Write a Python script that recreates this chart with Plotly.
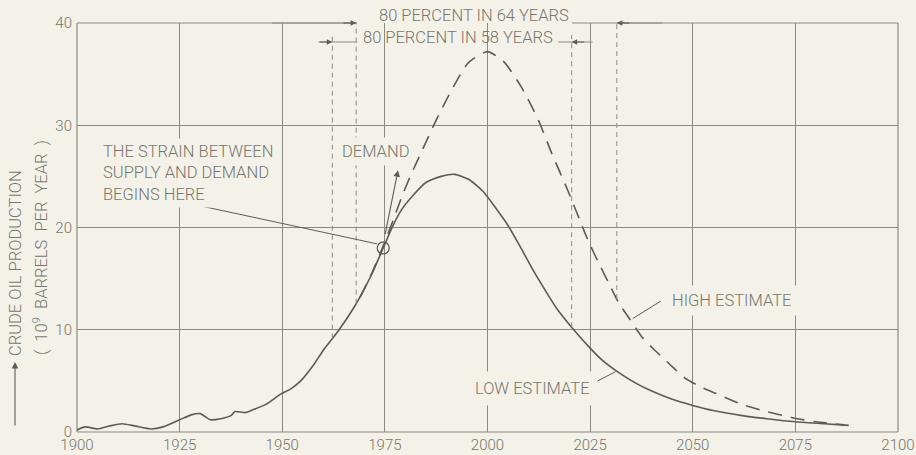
import numpy as np
import plotly.graph_objects as go

# ---------------- data ----------------
low_years = [1900, 1902, 1905, 1908, 1911, 1914, 1918, 1921, 1925, 1928, 1930, 1932.5,
             1935, 1937.5, 1938.5, 1941, 1943, 1946, 1949.6, 1952, 1954.5, 1957.7, 1960,
             1963.5, 1967.5, 1970, 1972, 1974.6, 1977, 1979, 1982, 1985, 1988.7, 1992,
             1995.5, 1999.2, 2002, 2005, 2008, 2011, 2014, 2017, 2021, 2025, 2028, 2032, 2036,
             2040, 2045, 2050, 2055, 2062, 2068, 2075, 2082, 2088]
low_values = [0.2, 0.5, 0.3, 0.6, 0.8, 0.6, 0.3, 0.5, 1.2, 1.7, 1.8, 1.2,
              1.3, 1.6, 2.0, 1.9, 2.2, 2.7, 3.7, 4.2, 5.0, 6.6, 8.0,
              9.8, 12.2, 14.0, 15.6, 18.0, 20.2, 21.7, 23.2, 24.4, 25.0, 25.2,
              24.7, 23.4, 21.9, 20.2, 18.1, 15.9, 13.9, 12.0, 10.0, 8.2, 7.0, 5.8, 4.8,
              4.0, 3.2, 2.6, 2.1, 1.6, 1.3, 1.0, 0.8, 0.65]

high_years = [1969, 1972, 1974.6, 1977, 1979.4, 1981.4, 1983.8, 1987.5, 1991.2, 1995.3,
              2000, 2004, 2008.3, 2012.4, 2015.6, 2019.8, 2023.7, 2025, 2027, 2029.5,
              2032, 2034.4, 2037.6, 2041, 2044.2, 2048, 2052, 2055.5, 2062, 2068,
              2074.3, 2080, 2087]
high_values = [13.2, 15.7, 18.2, 20.7, 23.3, 25.2, 27.3, 30.5, 33.4, 36.1,
               37.2, 36.2, 33.7, 30.5, 27.3, 23.4, 19.5, 18.3, 16.6, 14.6,
               12.6, 11.2, 9.3, 7.9, 6.7, 5.3, 4.4, 3.8, 2.7, 2.0,
               1.4, 1.0, 0.7]

x_ticks = [1900, 1925, 1950, 1975, 2000, 2025, 2050, 2075, 2100]
y_ticks = [0, 10, 20, 30, 40]

span64 = [1968.0, 2031.5]   # high estimate, 80 percent in 64 years
span58 = [1962.2, 2020.5]   # low estimate, 80 percent in 58 years
strain_point = [1974.6, 18.0]
demand_tip = [1978.2, 25.6]

# ---------------- style ----------------
BG = "#f4f2e8"
INK = "#5c5c56"
GRID = "#8a8a83"
TXT = "#76766e"
FONT = "Roboto, Liberation Sans, sans-serif"
FS = 16.5

fig = go.Figure()
fig.add_trace(go.Scatter(x=low_years, y=low_values, mode="lines",
                         line=dict(color=INK, width=1.6, shape="spline", smoothing=0.6),
                         hoverinfo="skip", showlegend=False))
fig.add_trace(go.Scatter(x=high_years, y=high_values, mode="lines",
                         line=dict(color=INK, width=1.6, shape="spline", smoothing=0.6,
                                   dash="14px,9px"),
                         hoverinfo="skip", showlegend=False))

shapes = []
ann = []

def pxx(p):  # pixel x -> paper
    return (p - 77) / 821.0

def pxy(p):  # pixel y -> paper
    return (432 - p) / 409.0

# cream block behind the top dimension text (breaks grid lines)
shapes.append(dict(type="rect", xref="paper", yref="paper", x0=pxx(357), x1=pxx(572),
                   y0=pxy(49), y1=pxy(4), fillcolor=BG, line=dict(width=0), layer="between"))

# frame
lw = dict(color=GRID, width=1.2)
shapes += [
    dict(type="line", xref="paper", yref="paper", x0=0, x1=0, y0=0, y1=1, line=lw, layer="between"),
    dict(type="line", xref="paper", yref="paper", x0=1, x1=1, y0=0, y1=1, line=lw, layer="between"),
    dict(type="line", xref="paper", yref="paper", x0=0, x1=1, y0=0, y1=0, line=lw, layer="between"),
    dict(type="line", xref="paper", yref="paper", x0=0, x1=pxx(357), y0=1, y1=1, line=lw, layer="between"),
    dict(type="line", xref="paper", yref="paper", x0=pxx(572), x1=1, y0=1, y1=1, line=lw, layer="between"),
]

# vertical extension lines (thin dashed) from top to curve
ext = dict(color=GRID, width=1, dash="5px,4px")
def curve_at(yr, xs, ys):
    return float(np.interp(yr, xs, ys))

top58 = pxy(35)
shapes.append(dict(type="line", xref="x", yref="paper", x0=span64[0], x1=span64[0],
                   y0=curve_at(span64[0], low_years, low_values) / 40, y1=1, line=ext))
shapes.append(dict(type="line", xref="x", yref="paper", x0=span64[1], x1=span64[1],
                   y0=curve_at(span64[1], high_years, high_values) / 40, y1=1, line=ext))
shapes.append(dict(type="line", xref="x", yref="paper", x0=span58[0], x1=span58[0],
                   y0=curve_at(span58[0], low_years, low_values) / 40, y1=top58, line=ext))
shapes.append(dict(type="line", xref="x", yref="paper", x0=span58[1], x1=span58[1],
                   y0=curve_at(span58[1], low_years, low_values) / 40, y1=top58, line=ext))

# dimension lines
y64 = 1.0
y58 = pxy(42)
dim = dict(color=GRID, width=1)
shapes.append(dict(type="line", xref="x", yref="paper", x0=1947.5, x1=span64[0], y0=y64, y1=y64, line=dim))
shapes.append(dict(type="line", xref="x", yref="paper", x0=span64[1], x1=2042.5, y0=y64, y1=y64, line=dim))
shapes.append(dict(type="line", xref="x", yref="paper", x0=1958.8, x1=1968.3, y0=y58, y1=y58, line=dim))
shapes.append(dict(type="line", xref="x", yref="paper", x0=2017.2, x1=2025.6, y0=y58, y1=y58, line=dim))

def arrow(x_tip, y_tip, dx):
    return dict(x=x_tip, y=y_tip, xref="x", yref="paper", ax=dx, ay=0, axref="pixel",
                showarrow=True, arrowhead=2, arrowsize=1.1, arrowwidth=1,
                arrowcolor=INK, text="")
ann.append(arrow(span64[0], y64, -14))
ann.append(arrow(span64[1], y64, 14))
ann.append(arrow(span58[0], y58, -14))
ann.append(arrow(span58[1], y58, 14))

tf = dict(family=FONT, size=FS, color=TXT, weight=300)
ann.append(dict(x=1996.6, y=pxy(16), xref="x", yref="paper", text="80 PERCENT IN 64 YEARS",
                showarrow=False, font=tf, xanchor="center", yanchor="middle"))
ann.append(dict(x=1992.9, y=pxy(37), xref="x", yref="paper", text="80 PERCENT IN 58 YEARS",
                showarrow=False, font=tf, xanchor="center", yanchor="middle"))

# strain circle
shapes.append(dict(type="circle", xref="x", yref="y", xsizemode="pixel", ysizemode="pixel",
                   xanchor=strain_point[0], yanchor=strain_point[1], x0=-6, x1=6, y0=-6, y1=6,
                   line=dict(color=INK, width=1.3), layer="above"))
# leader line from strain text to circle
shapes.append(dict(type="line", xref="x", yref="y", x0=1925.6, y0=22.5, x1=1973.1, y1=18.4,
                   line=dict(color=INK, width=1), layer="above"))
ann.append(dict(x=1905.4, y=25.3, xref="x", yref="y",
                text="THE STRAIN BETWEEN<br>SUPPLY AND DEMAND<br>BEGINS HERE",
                showarrow=False, font=tf, align="left", xanchor="left", yanchor="middle",
                bgcolor=BG, borderpad=3))

# demand arrow
ann.append(dict(x=demand_tip[0], y=demand_tip[1], xref="x", yref="y",
                ax=strain_point[0] + 0.4, ay=strain_point[1] + 1.2, axref="x", ayref="y",
                showarrow=True, arrowhead=2, arrowsize=1.2, arrowwidth=1.1,
                arrowcolor=INK, text=""))
ann.append(dict(x=1972.7, y=27.4, xref="x", yref="y", text="DEMAND", showarrow=False,
                font=tf, xanchor="center", yanchor="middle", bgcolor=BG, borderpad=4))

# estimate labels
shapes.append(dict(type="line", xref="x", yref="y", x0=2042.2, y0=12.8, x1=2035.4, y1=11.1,
                   line=dict(color=INK, width=1), layer="above"))
ann.append(dict(x=2043.6, y=12.9, xref="x", yref="y", text="HIGH ESTIMATE", showarrow=False,
                font=tf, xanchor="left", yanchor="middle", bgcolor=BG, borderpad=5))
shapes.append(dict(type="line", xref="x", yref="y", x0=2025.9, y0=4.8, x1=2031.2, y1=5.9,
                   line=dict(color=INK, width=1), layer="above"))
ann.append(dict(x=2011.0, y=4.3, xref="x", yref="y", text="LOW ESTIMATE", showarrow=False,
                font=tf, xanchor="center", yanchor="middle", bgcolor=BG, borderpad=7))

# y-axis title
ann.append(dict(x=pxx(15), y=pxy(263), xref="paper", yref="paper", text="CRUDE OIL PRODUCTION",
                textangle=-90, showarrow=False, font=tf, xanchor="center", yanchor="middle"))
ann.append(dict(x=pxx(40), y=pxy(248), xref="paper", yref="paper",
                text="(  10<sup>9</sup>  BARRELS  PER  YEAR  )",
                textangle=-90, showarrow=False, font=tf, xanchor="center", yanchor="middle"))
ann.append(dict(x=pxx(15), y=pxy(362), xref="paper", yref="paper", ax=0, ay=65,
                showarrow=True, arrowhead=2, arrowsize=1.2, arrowwidth=1.1,
                arrowcolor=INK, text=""))

tickf = dict(family=FONT, size=15, color=TXT, weight=300)
fig.update_layout(
    width=916, height=455,
    margin=dict(l=77, r=18, t=23, b=23, autoexpand=False),
    paper_bgcolor=BG, plot_bgcolor=BG,
    shapes=shapes, annotations=ann,
    font=dict(family=FONT, size=FS, color=TXT),
    xaxis=dict(range=[1900, 2100], tickvals=x_ticks, ticktext=[str(v) for v in x_ticks],
               showgrid=True, gridcolor=GRID, gridwidth=1, zeroline=False, showline=False,
               ticks="", ticklabelstandoff=2, ticklabeloverflow="allow", automargin=False,
               tickfont=tickf, fixedrange=True),
    yaxis=dict(range=[0, 40], tickvals=y_ticks, ticktext=[str(v) for v in y_ticks],
               showgrid=True, gridcolor=GRID, gridwidth=1, zeroline=False, showline=False,
               ticks="", ticklabelstandoff=4, automargin=False,
               tickfont=tickf, fixedrange=True),
    showlegend=False,
)

fig.write_html("out.html",
               config={"displayModeBar": False},
               post_script="document.body.style.margin='0px';"
                           "document.body.style.background='" + BG + "';")
